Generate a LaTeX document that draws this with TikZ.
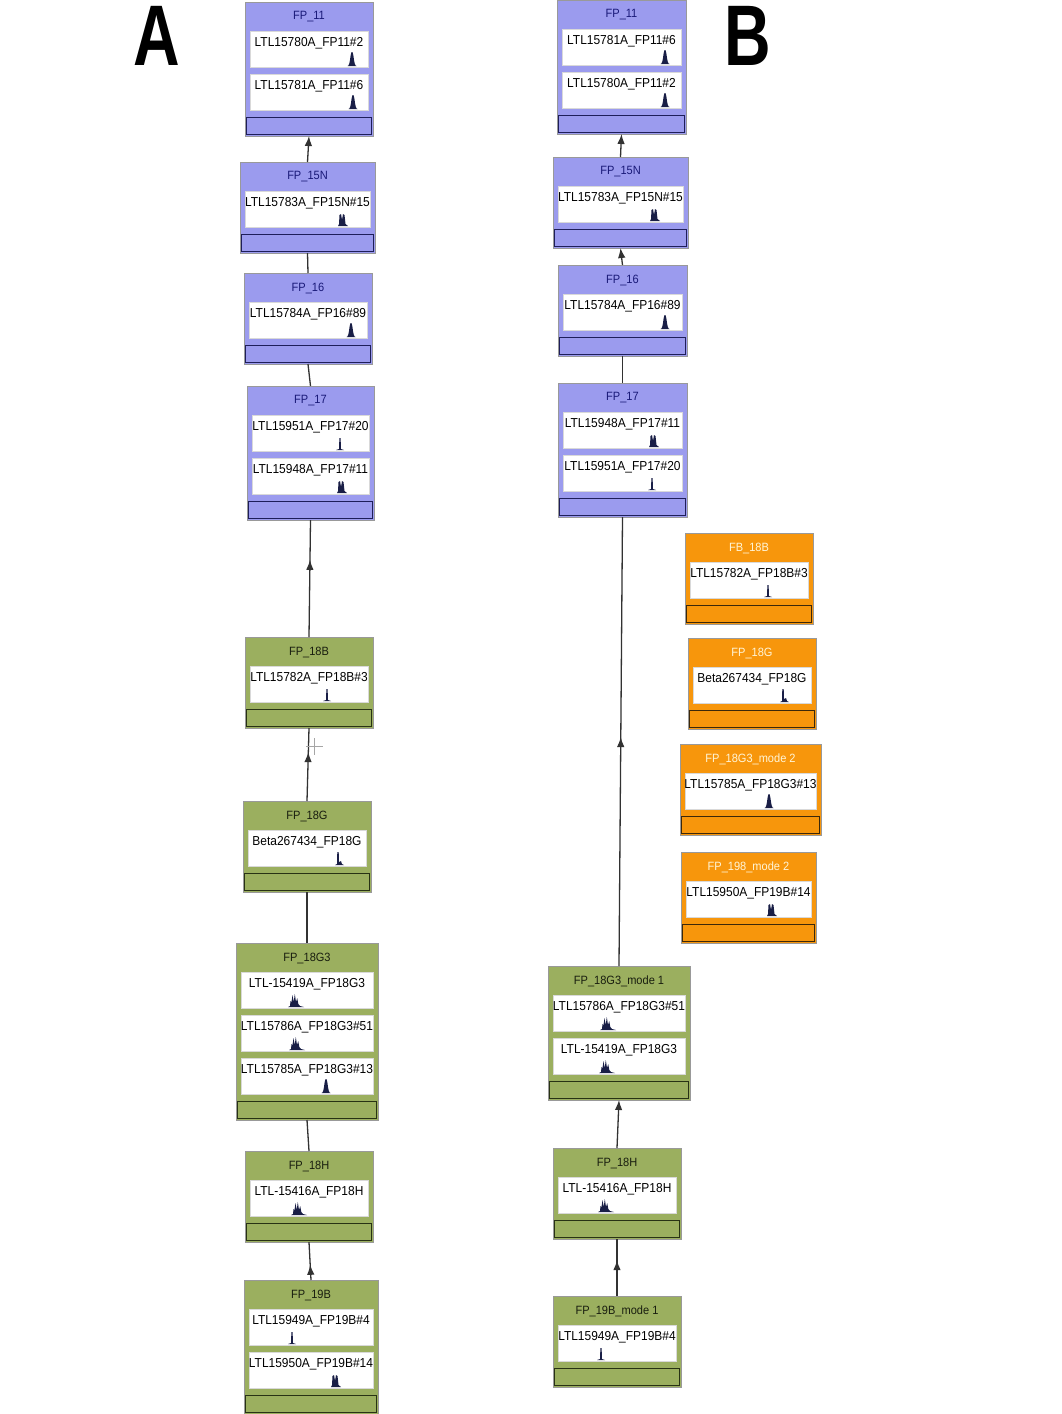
\documentclass[tikz,border=0pt]{standalone}
\usepackage{fontspec}
\setmainfont{Liberation Sans}
\newfontfamily\lblfont[FakeStretch=0.92]{Liberation Sans}
\newfontfamily\letfont[FakeStretch=0.75]{Liberation Sans}
\usetikzlibrary{arrows.meta,decorations.markings}
\definecolor{blueF}{RGB}{155,155,238}
\definecolor{blueT}{RGB}{25,25,120}
\definecolor{blueB}{RGB}{30,30,90}
\definecolor{greenF}{RGB}{155,175,95}
\definecolor{greenT}{RGB}{25,30,15}
\definecolor{greenB}{RGB}{40,50,20}
\definecolor{orangeF}{RGB}{247,150,12}
\definecolor{orangeT}{RGB}{255,245,215}
\definecolor{orangeB}{RGB}{60,40,10}
\definecolor{peakC}{RGB}{25,30,70}
\definecolor{connC}{RGB}{50,50,50}
\tikzset{
  fpbox/.style={draw=black!40, line width=0.6pt, inner sep=0pt, outer sep=0pt},
  bluebox/.style={fpbox, fill=blueF},
  greenbox/.style={fpbox, fill=greenF},
  orangebox/.style={fpbox, fill=orangeF},
  titlebase/.style={font=\lblfont\fontsize{12}{14}\selectfont, inner sep=0pt},
  bluetitle/.style={titlebase, text=blueT},
  greentitle/.style={titlebase, text=greenT},
  orangetitle/.style={titlebase, text=orangeT},
  barbase/.style={line width=1.5pt, inner sep=0pt, outer sep=0pt},
  bluebar/.style={barbase, fill=blueF, draw=blueB},
  greenbar/.style={barbase, fill=greenF, draw=greenB},
  orangebar/.style={barbase, fill=orangeF, draw=orangeB},
  whitebox/.style={fill=white, draw=black!15, line width=0.4pt, inner sep=0pt, outer sep=0pt},
  rowlbl/.style={font=\lblfont\fontsize{13}{15}\selectfont, inner sep=0pt, text=black},
  conn/.style={draw=connC, line width=1.3pt},
  tipend/.style={-{Latex[length=10pt,width=7.5pt]}},
  midarr/.style={postaction={decorate}, decoration={markings, mark=at position #1 with {\arrow{Latex[length=10pt,width=7.5pt]}}}},
  letter/.style={font=\letfont\bfseries\fontsize{86}{88}\selectfont, inner sep=0pt, text=black}
}
% peak glyphs: #1 = x centre, #2 = baseline y
\newcommand\peaksingle[2]{\fill[peakC] ({#1-4.5},{#2}) .. controls ({#1-1.5},{#2}) and ({#1-2},{#2-14}) .. ({#1},{#2-14}) .. controls ({#1+2},{#2-14}) and ({#1+1.5},{#2}) .. ({#1+4.5},{#2}) -- cycle;}
\newcommand\peakspike[2]{\fill[peakC] ({#1-4},{#2}) -- ({#1-1},{#2-1}) -- ({#1-0.6},{#2-12}) -- ({#1+0.6},{#2-12}) -- ({#1+1},{#2-1}) -- ({#1+4},{#2}) -- cycle;}
\newcommand\peakdouble[2]{\fill[peakC] ({#1-5},{#2}) -- ({#1-4},{#2-2}) -- ({#1-3.5},{#2-11}) -- ({#1-2},{#2-12}) -- ({#1-1},{#2-6}) -- ({#1},{#2-12}) -- ({#1+1.5},{#2-11}) -- ({#1+2.5},{#2-2}) -- ({#1+5},{#2}) -- cycle;}
\newcommand\peakmulti[2]{\fill[peakC] ({#1-8},{#2}) -- ({#1-6},{#2-1}) -- ({#1-5.5},{#2-6}) -- ({#1-4.5},{#2-5}) -- ({#1-3.5},{#2-12}) -- ({#1-2.3},{#2-5}) -- ({#1-1.2},{#2-13}) -- ({#1},{#2-5}) -- ({#1+1.2},{#2-9}) -- ({#1+2.3},{#2-3}) -- ({#1+4},{#2-1}) -- ({#1+8},{#2}) -- cycle;}
\newcommand\peakspikebump[2]{\fill[peakC] ({#1-3},{#2}) -- ({#1-1},{#2-1}) -- ({#1-0.7},{#2-13}) -- ({#1+0.7},{#2-13}) -- ({#1+1},{#2-3}) -- ({#1+3},{#2-4}) -- ({#1+4},{#2-1}) -- ({#1+6},{#2}) -- cycle;}
\newcommand\peakglyph[3]{\csname peak#1\endcsname{#2}{#3}}
% #1 name, #2 left, #3 top, #4 width, #5 rows, #6 colour class, #7 title, #8 rows list label/peakx/type
\newcommand\fpnode[8]{%
  \pgfmathsetmacro\fpH{48+43*#5}%
  \pgfmathsetmacro\fpCX{#2+#4/2}%
  \pgfmathsetmacro\fpBarY{#3+29+43*#5}%
  \node[#6box, minimum width=#4pt, minimum height=\fpH pt, anchor=north west] (#1) at (#2,#3) {};
  \node[#6title] (#1-title) at (\fpCX,#3+15) {#7};
  \foreach \lab/\px/\ptype [count=\i] in {#8} {
    \pgfmathsetmacro\wy{#3+29+43*(\i-1)}
    \node[whitebox, minimum width=#4pt-10pt, minimum height=36pt, anchor=north west] (#1-r\i) at (#2+5,\wy) {};
    \node[rowlbl] (#1-l\i) at (\fpCX,\wy+12) {\lab};
    \peakglyph{\ptype}{\px}{\wy+35}
  }
  \node[#6bar, minimum width=#4pt-3pt, minimum height=17pt, anchor=north west] (#1-bar) at (#2+1.5,\fpBarY+0.5) {};
}
\begin{document}
\begin{tikzpicture}[x=1pt,y=-1pt]
\fill[white] (0,0) rectangle (1061,1414);
\useasboundingbox (0,0) rectangle (1061,1414);

\node[letter] (letA) at (157,36) {A};
\node[letter] (letB) at (748,36) {B};

% ---------- column A ----------
\fpnode{A11}{245}{2}{128}{2}{blue}{FP\_11}{LTL15780A\_FP11\#2/352/single,LTL15781A\_FP11\#6/353/single}
\fpnode{A15N}{240}{162}{135}{1}{blue}{FP\_15N}{LTL15783A\_FP15N\#15/343/double}
\fpnode{A16}{244}{273}{128}{1}{blue}{FP\_16}{LTL15784A\_FP16\#89/351/single}
\fpnode{A17}{247}{386}{127}{2}{blue}{FP\_17}{LTL15951A\_FP17\#20/340/spike,LTL15948A\_FP17\#11/342/double}
\fpnode{A18B}{245}{637}{128}{1}{green}{FP\_18B}{LTL15782A\_FP18B\#3/327/spike}
\fpnode{A18G}{243}{801}{128}{1}{green}{FP\_18G}{Beta267434\_FP18G/338/spikebump}
\fpnode{A18G3}{236}{943}{142}{3}{green}{FP\_18G3}{LTL-15419A\_FP18G3/296/multi,LTL15786A\_FP18G3\#51/297/multi,LTL15785A\_FP18G3\#13/326/single}
\fpnode{A18H}{245}{1151}{128}{1}{green}{FP\_18H}{LTL-15416A\_FP18H/299/multi}
\fpnode{A19B}{244}{1280}{134}{2}{green}{FP\_19B}{LTL15949A\_FP19B\#4/292/spike,LTL15950A\_FP19B\#14/336/double}

% ---------- column B ----------
\fpnode{B11}{557}{0}{129}{2}{blue}{FP\_11}{LTL15781A\_FP11\#6/665/single,LTL15780A\_FP11\#2/665/single}
\fpnode{B15N}{553}{157}{135}{1}{blue}{FP\_15N}{LTL15783A\_FP15N\#15/655/double}
\fpnode{B16}{558}{265}{129}{1}{blue}{FP\_16}{LTL15784A\_FP16\#89/665/single}
\fpnode{B17}{558}{383}{129}{2}{blue}{FP\_17}{LTL15948A\_FP17\#11/654/double,LTL15951A\_FP17\#20/652/spike}
\fpnode{B18G3}{548}{966}{142}{2}{green}{FP\_18G3\_mode 1}{LTL15786A\_FP18G3\#51/608/multi,LTL-15419A\_FP18G3/607/multi}
\fpnode{B18H}{553}{1148}{128}{1}{green}{FP\_18H}{LTL-15416A\_FP18H/606/multi}
\fpnode{B19B}{553}{1296}{128}{1}{green}{FP\_19B\_mode 1}{LTL15949A\_FP19B\#4/601/spike}

% ---------- orange (unconnected) ----------
\fpnode{O18B}{685}{533}{128}{1}{orange}{FB\_18B}{LTL15782A\_FP18B\#3/768/spike}
\fpnode{O18G}{688}{638}{128}{1}{orange}{FP\_18G}{Beta267434\_FP18G/783/spikebump}
\fpnode{O18G3}{680}{744}{141}{1}{orange}{FP\_18G3\_mode 2}{LTL15785A\_FP18G3\#13/769/single}
\fpnode{O19B}{681}{852}{135}{1}{orange}{FP\_198\_mode 2}{LTL15950A\_FP19B\#14/772/double}

% ---------- connectors A ----------
\draw[conn, tipend] (A15N.north) -- (A11.south);
\draw[conn] (A16.north) -- (A15N.south);
\draw[conn] (A17.north) -- (A16.south);
\draw[conn, midarr=0.66] (A18B.north) -- (A17.south);
\draw[conn, midarr=0.67] (A18G.north) -- (A18B.south);
\draw[conn] (A18G3.north) -- (A18G.south);
\draw[conn] (A18H.north) -- (A18G3.south);
\draw[conn, midarr=0.4] (A19B.north) -- (A18H.south);

% stray cursor mark
\coordinate (crossC) at (314,746);
\draw[black!35, line width=0.6pt] ([xshift=-8pt]crossC) -- ([xshift=9pt]crossC);
\draw[black!35, line width=0.6pt] ([yshift=8pt]crossC) -- ([yshift=-9pt]crossC);

% ---------- connectors B ----------
\draw[conn, tipend] (B15N.north) -- (B11.south);
\draw[conn, tipend] (B16.north) -- (B15N.south);
\draw[conn] (B17.north) -- (B16.south);
\draw[conn, midarr=0.51] (B18G3.north) -- (B17.south);
\draw[conn, tipend] (B18H.north) -- (B18G3.south);
\draw[conn, midarr=0.63] (B19B.north) -- (B18H.south);
\end{tikzpicture}
\end{document}
